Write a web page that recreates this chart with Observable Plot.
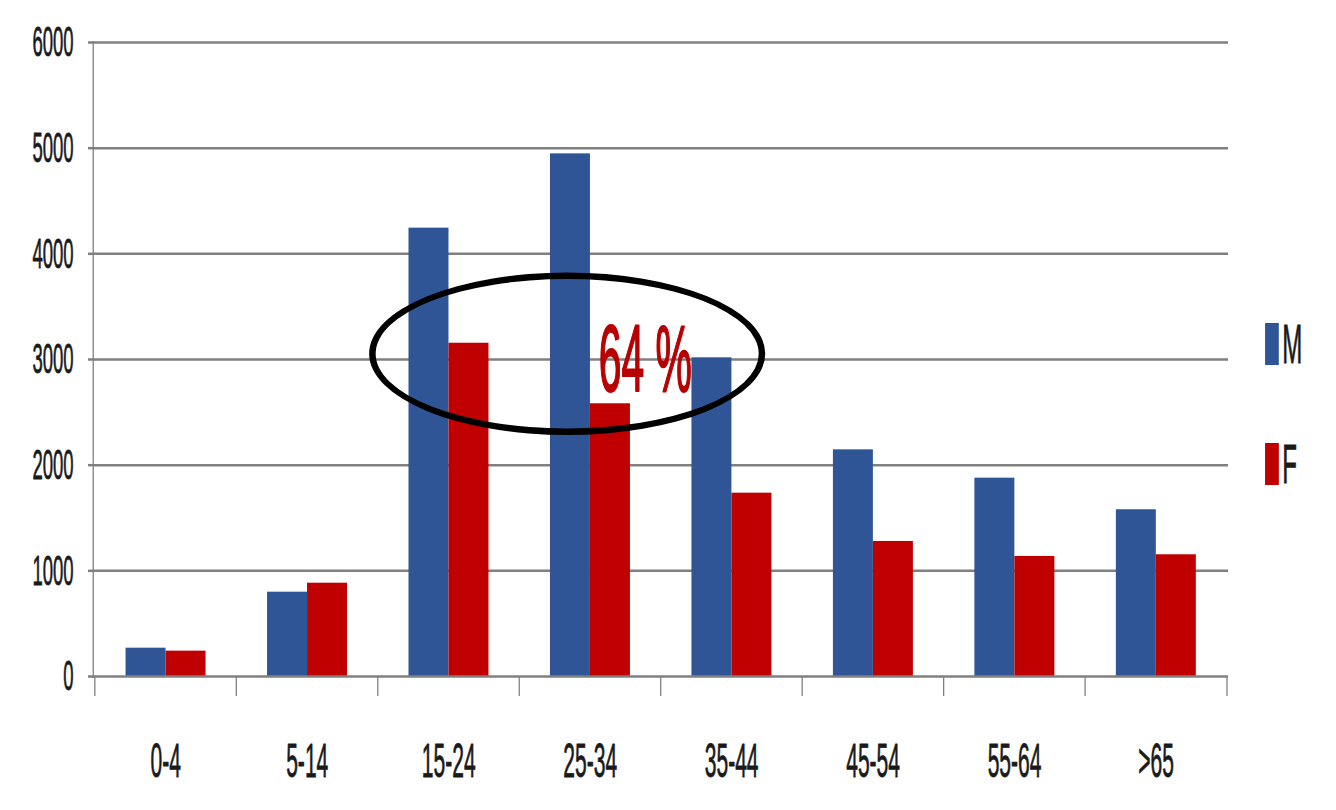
<!DOCTYPE html>
<html><head><meta charset="utf-8">
<script src="https://cdn.jsdelivr.net/npm/d3@7"></script>
<script src="https://cdn.jsdelivr.net/npm/@observablehq/plot@0.6"></script>
<style>
html,body{margin:0;padding:0;background:#fff;overflow:hidden;}
#wrap{position:relative;width:3107px;height:810px;transform:scaleX(0.43);transform-origin:0 0;font-family:"Liberation Sans",Arial,sans-serif;}
.leg{position:absolute;display:flex;align-items:center;}
.sw{width:32px;height:42px;margin-right:8px;}
.lt{font-size:56px;line-height:42px;color:#1a1a1a;-webkit-text-stroke:0.8px #1a1a1a;}
</style></head><body><div id="wrap"></div>
<script>
const categories = ["0-4","5-14","15-24","25-34","35-44","45-54","55-64",">65"];
const seriesNames = ["M","F"];
const male = [268,798,4243,4946,3016,2145,1877,1578];
const female = [240,883,3154,2581,1735,1278,1136,1152];
const yTicks = [0,1000,2000,3000,4000,5000,6000];
const annotationText = "64 %";
const colors = ["#2f5597","#c00000"];

const S = 0.43;
const W = Math.round(1336/S);
const H = 810;
const mL = 93/S, mR = (1336-1228)/S, mT = 42, mB = 810-676;
const pInner = 0.436;
const step = (W - mL - mR)/categories.length;
const bw = step*(1-pInner);
const gridColor = "#808080";
const ink = "#1a1a1a";

const data = categories.flatMap((c,i)=>[{cat:c, sex:seriesNames[0], v:male[i]},{cat:c, sex:seriesNames[1], v:female[i]}]);

const ellipseMark = (index, scales) => {
  const cx = scales.x("25-34") + bw/2 - 53;
  const cy = scales.y(3050);
  const rx = 453, ry = 78, t = 6.5;
  const ox = t/2/S, oy = t/2;
  const p = (a,b)=> `M${cx-a},${cy}a${a},${b} 0 1,0 ${2*a},0a${a},${b} 0 1,0 ${-2*a},0Z`;
  const path = document.createElementNS("http://www.w3.org/2000/svg","path");
  path.setAttribute("d", p(rx+ox, ry+oy) + p(rx-ox, ry-oy));
  path.setAttribute("fill-rule","evenodd");
  path.setAttribute("fill","#000");
  return path;
};

const chart = Plot.plot({
  width: W, height: H,
  marginLeft: mL, marginRight: mR, marginTop: mT, marginBottom: mB,
  style: {fontFamily: "'Liberation Sans', Arial, sans-serif", color: ink, background: "transparent", overflow: "visible"},
  x: {domain: categories, paddingInner: pInner, paddingOuter: pInner/2, align: 0.5, label: null},
  y: {domain: [0,6000], label: null},
  marks: [
    Plot.ruleY(yTicks.filter(d=>d>0), {stroke: gridColor, strokeWidth: 2.5}),
    Plot.barY(data.filter(d=>d.sex==="M"), {x:"cat", y:"v", fill: colors[0], insetRight: bw/2}),
    Plot.barY(data.filter(d=>d.sex==="F"), {x:"cat", y:"v", fill: colors[1], insetLeft: bw/2}),
    Plot.ruleY([0], {stroke: gridColor, strokeWidth: 2.5}),
    Plot.frame({anchor: "left", stroke: gridColor, strokeWidth: 3}),
    Plot.axisY({ticks: yTicks, tickSize: 11.6, tickPadding: 34, fontSize: 43, stroke: gridColor, strokeWidth: 2.5, textStroke: ink, textStrokeWidth: 0.8, label: null, tickFormat: d=>String(d)}),
    Plot.axisX({tickSize: 20, fill: "none", dx: -step/2, stroke: gridColor, strokeWidth: 3, label: null}),
    Plot.axisX({ticks: [categories[categories.length-1]], tickSize: 20, fill: "none", dx: step/2, stroke: gridColor, strokeWidth: 3, label: null}),
    Plot.axisX({tickSize: 0, tickPadding: 66, fontSize: 49, textStroke: ink, textStrokeWidth: 0.8, label: null}),
    ellipseMark,
    Plot.text([annotationText], {x: ()=>"25-34", y: ()=>2990, text: d=>d, dx: 128, fontSize: 95, fill: "#b80000", stroke: "#b80000", strokeWidth: 2, lineAnchor: "middle", textAnchor: "middle"})
  ]
});
const wrap = document.getElementById("wrap");
wrap.appendChild(chart);

const legTops = [323, 443];
seriesNames.forEach((n,i)=>{
  const d = document.createElement("div");
  d.className = "leg";
  d.style.left = (1265/S) + "px";
  d.style.top = legTops[i] + "px";
  const sw = document.createElement("div");
  sw.className = "sw"; sw.style.background = colors[i];
  const t = document.createElement("div");
  t.className = "lt"; t.textContent = n;
  d.appendChild(sw); d.appendChild(t);
  wrap.appendChild(d);
});
</script></body></html>
